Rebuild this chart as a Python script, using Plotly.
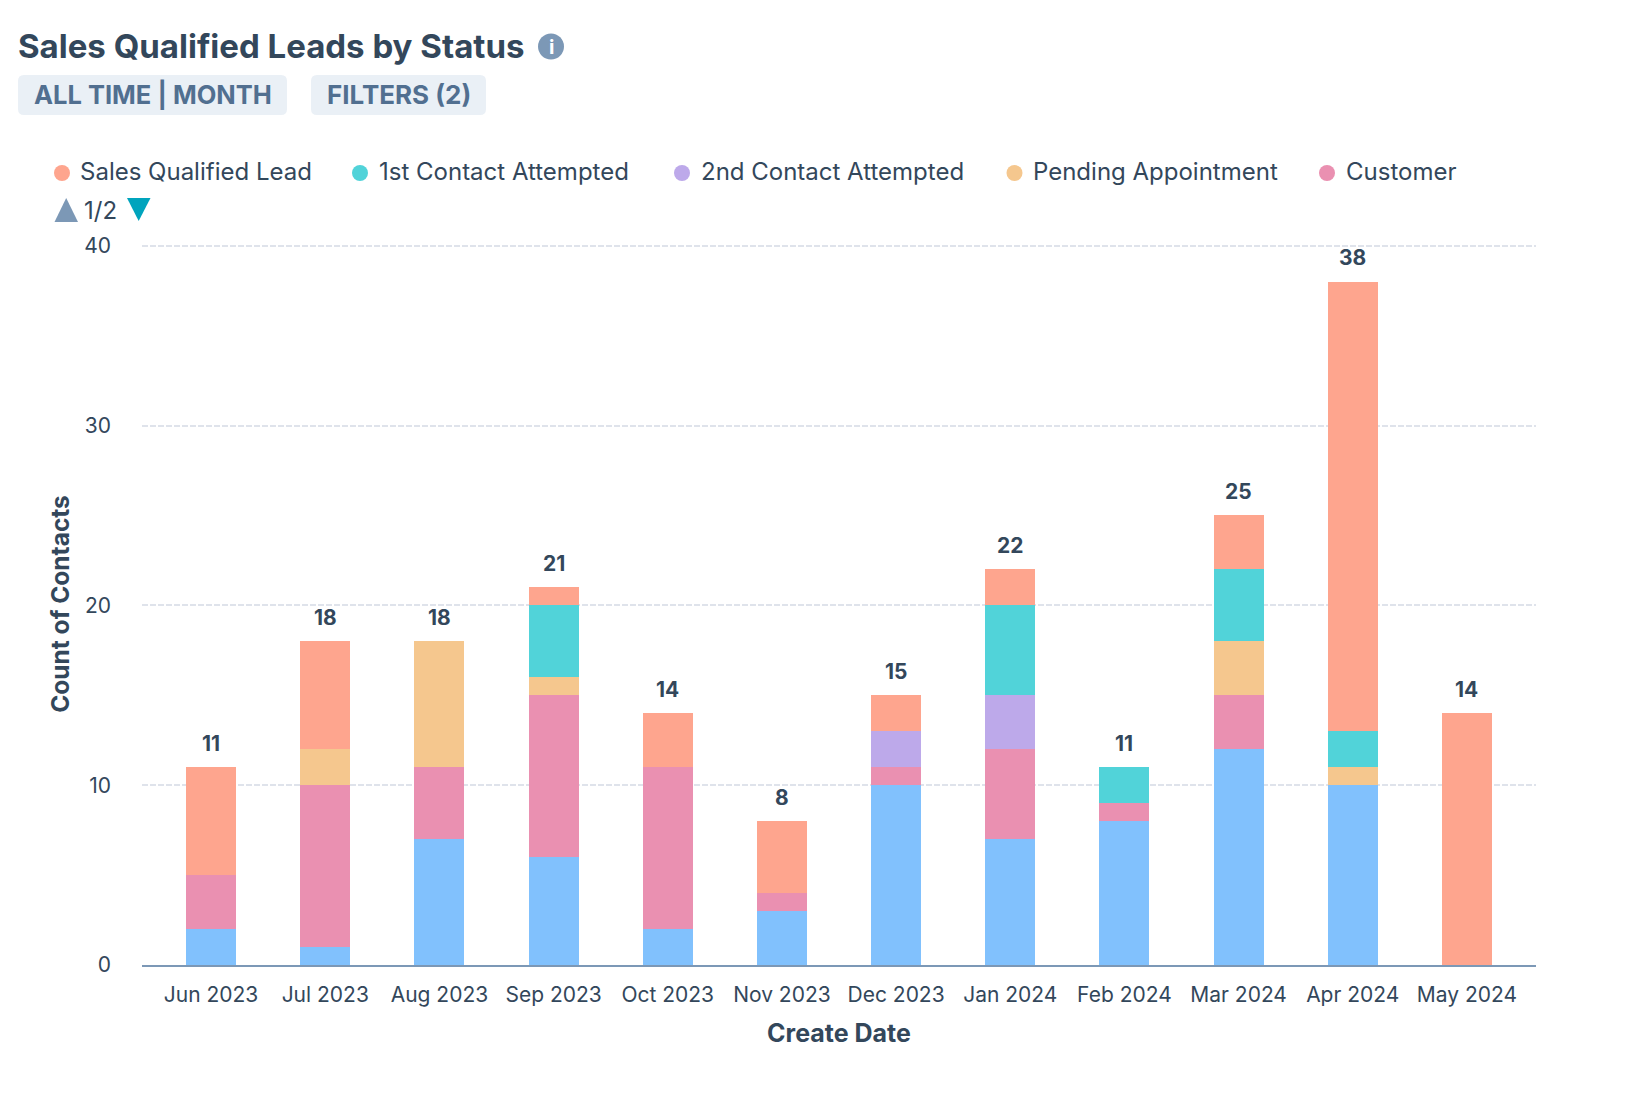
import plotly.graph_objects as go

months = ["Jun 2023", "Jul 2023", "Aug 2023", "Sep 2023", "Oct 2023", "Nov 2023",
          "Dec 2023", "Jan 2024", "Feb 2024", "Mar 2024", "Apr 2024", "May 2024"]
other_status = [2, 1, 7, 6, 2, 3, 10, 7, 8, 12, 10, 0]
customer = [3, 9, 4, 9, 9, 1, 1, 5, 1, 3, 0, 0]
pending = [0, 2, 7, 1, 0, 0, 0, 0, 0, 3, 1, 0]
second_contact = [0, 0, 0, 0, 0, 0, 2, 3, 0, 0, 0, 0]
first_contact = [0, 0, 0, 4, 0, 0, 0, 5, 2, 4, 2, 0]
sql = [6, 6, 0, 1, 3, 4, 2, 2, 0, 3, 25, 14]
totals = [11, 18, 18, 21, 14, 8, 15, 22, 11, 25, 38, 14]

FONT = "Inter"
DARK = "#33475b"
W, H = 1652, 1098
L, R, T, B = 142, 1536, 243, 965


def nx(x):
    return (x - L) / (R - L)


def ny(y):
    return (B - y) / (B - T)


stack = [
    ("Other", other_status, "#81c1fd"),
    ("Customer", customer, "#ea90b1"),
    ("Pending Appointment", pending, "#f5c78e"),
    ("2nd Contact Attempted", second_contact, "#bda9ea"),
    ("1st Contact Attempted", first_contact, "#51d3d9"),
    ("Sales Qualified Lead", sql, "#fea58e"),
]

fig = go.Figure()
for name, vals, col in stack:
    fig.add_trace(go.Bar(x=months, y=vals, name=name, marker=dict(color=col, line=dict(width=0)),
                         showlegend=False))

annotations = []
shapes = []


def text(x, y, s, size, color=DARK, bold=False, xanchor="left"):
    annotations.append(dict(
        x=nx(x), y=ny(y), xref="paper", yref="paper", text=f"<b>{s}</b>" if bold else s,
        showarrow=False, xanchor=xanchor, yanchor="middle", align="left",
        font=dict(family=FONT, size=size, color=color), borderpad=0, borderwidth=0))


def circle(cx, cy, r, color):
    shapes.append(dict(type="circle", xref="paper", yref="paper", x0=nx(cx - r), x1=nx(cx + r),
                       y0=ny(cy + r), y1=ny(cy - r), fillcolor=color, line=dict(width=0), layer="above"))


def rrect(x0, y0, x1, y1, r, color):
    a, b, c, d = nx(x0), nx(x1), ny(y1), ny(y0)
    rx, ry = r / (R - L), r / (B - T)
    path = (f"M {a+rx} {c} L {b-rx} {c} Q {b} {c} {b} {c+ry} L {b} {d-ry} Q {b} {d} {b-rx} {d} "
            f"L {a+rx} {d} Q {a} {d} {a} {d-ry} L {a} {c+ry} Q {a} {c} {a+rx} {c} Z")
    shapes.append(dict(type="path", xref="paper", yref="paper", path=path, fillcolor=color, line=dict(width=0)))


def tri(pts, color):
    path = "M " + " L ".join(f"{nx(x)} {ny(y)}" for x, y in pts) + " Z"
    shapes.append(dict(type="path", xref="paper", yref="paper", path=path, fillcolor=color, line=dict(width=0)))


# header
text(18, 46, "Sales Qualified Leads by Status", 33, bold=True)
circle(551, 46.5, 13, "#7c98b6")
text(551, 46.5, "<b>i</b>", 20, color="#ffffff", xanchor="center")
rrect(18, 75, 287, 115, 6, "#eaf0f6")
rrect(311, 75, 486, 115, 6, "#eaf0f6")
text(34, 94, "ALL TIME | MONTH", 25.5, color="#516f90", bold=True)
text(327, 94, "FILTERS (2)", 26, color="#516f90", bold=True)

# legend
legend_items = [
    ("Sales Qualified Lead", "#fea58e", 62, 80),
    ("1st Contact Attempted", "#51d3d9", 360, 378.5),
    ("2nd Contact Attempted", "#bda9ea", 682, 700.5),
    ("Pending Appointment", "#f5c78e", 1014.5, 1033),
    ("Customer", "#ea90b1", 1327, 1345.5),
]
for label, col, mx, tx in legend_items:
    circle(mx, 173, 8, col)
    text(tx, 172, label, 24)
tri([(54.5, 222), (78, 222), (66.2, 198)], "#7c98b6")
text(84, 210, "1/2", 24)
tri([(127, 198), (150.5, 198), (138.7, 221)], "#00a4bd")

# totals above each stack
for m, t in zip(months, totals):
    annotations.append(dict(x=m, y=t, xref="x", yref="y", text=f"<b>{t}</b>", showarrow=False,
                            yanchor="middle", yshift=24,
                            font=dict(family=FONT, size=21, color=DARK)))

fig.update_layout(
    width=W, height=H, barmode="stack", bargap=0.562,
    margin=dict(l=L, r=W - R, t=T, b=H - B, pad=0),
    plot_bgcolor="#ffffff", paper_bgcolor="#ffffff",
    font=dict(family=FONT, color=DARK, size=21),
    showlegend=False, annotations=annotations, shapes=shapes,
    xaxis=dict(
        type="category", range=[-0.605, 11.605], showgrid=False, showline=True,
        linecolor="#7c98b6", linewidth=2, ticks="", ticklabelstandoff=10,
        tickfont=dict(family=FONT, size=21, color=DARK),
        title=dict(text="<b>Create Date</b>", font=dict(family=FONT, size=25, color=DARK), standoff=18),
    ),
    yaxis=dict(
        range=[0, 40.15], tickvals=[0, 10, 20, 30, 40], showgrid=True, gridcolor="#dfe3eb",
        griddash="6px,2px", gridwidth=2, zeroline=False, showline=False, ticks="", ticklabelstandoff=30,
        tickfont=dict(family=FONT, size=21, color=DARK),
        title=dict(text="<b>Count of Contacts</b>", font=dict(family=FONT, size=24.5, color=DARK), standoff=7),
    ),
)

fig.write_html("out.html", config={"displayModeBar": False},
               post_script="document.body.style.margin='0';document.body.style.overflow='hidden';")
